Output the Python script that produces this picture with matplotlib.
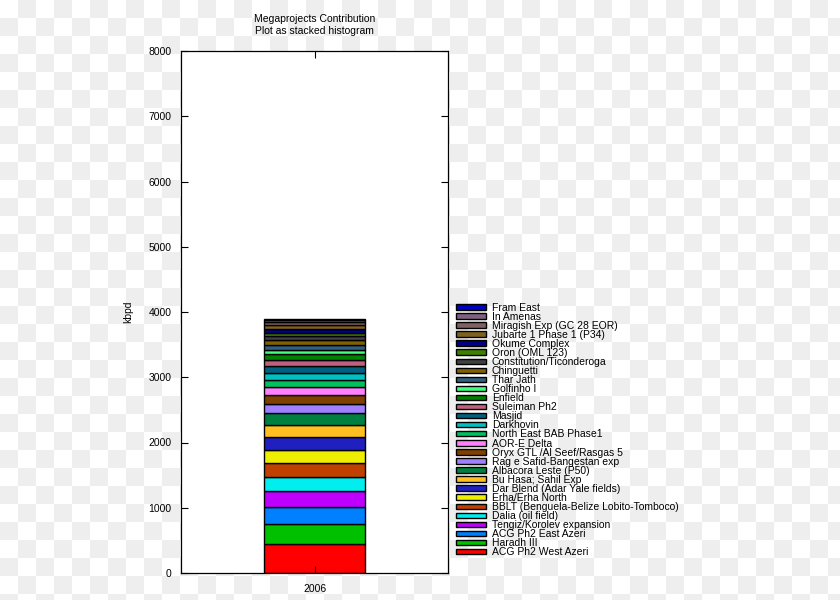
import numpy as np
import matplotlib
matplotlib.use("Agg")
import matplotlib.pyplot as plt

plt.rcParams['font.family'] = ['Liberation Sans', 'DejaVu Sans']

title = "Megaprojects Contribution\nPlot as stacked histogram"
category = ["2006"]
ylabel = "kbpd"

# bottom to top
projects = [
    "ACG Ph2 West Azeri", "Haradh III", "ACG Ph2 East Azeri", "Tengiz/Korolev expansion",
    "Dalia (oil field)", "BBLT (Benguela-Belize Lobito-Tomboco)", "Erha/Erha North",
    "Dar Blend (Adar Yale fields)", "Bu Hasa; Sahil Exp", "Albacora Leste (P50)",
    "Rag e Safid-Bangestan exp", "Oryx GTL /Al Seef/Rasgas 5", "AOR-E Delta",
    "North East BAB Phase1", "Darkhovin", "Masjid", "Suleiman Ph2", "Enfield",
    "Golfinho I", "Thar Jath", "Chinguetti", "Constitution/Ticonderoga", "Oron (OML 123)",
    "Okume Complex", "Jubarte 1 Phase 1 (P34)", "Miragish Exp (GC 28 EOR)", "In Amenas",
    "Fram East",
]
values = [
    444, 306, 260, 245,
    215, 215, 200,
    200, 184, 184,
    138, 138, 116,
    107, 113, 101, 103, 87,
    61, 77, 70, 61, 52,
    66, 61, 41, 35,
    20,
]
colors = [
    "#ff0000", "#00c000", "#0080ff", "#c000ff",
    "#00eeee", "#c04000", "#eeee00",
    "#2020c0", "#ffc020", "#008040",
    "#a080ff", "#804000", "#ff80ff",
    "#00c060", "#00c0c0", "#006080", "#c06080", "#008000",
    "#40ff80", "#306080", "#806000", "#404040", "#408000",
    "#000080", "#806020", "#806060", "#806080",
    "#0000c0",
]

yticks = [0, 1000, 2000, 3000, 4000, 5000, 6000, 7000, 8000]

fig = plt.figure(figsize=(8.4, 6.0), dpi=100)

# checkerboard background
bg = fig.add_axes([0, 0, 1, 1], zorder=-10)
yy, xx = np.mgrid[0:600, 0:840]
checker = ((xx // 18) + (yy // 18)) % 2
bg.imshow(checker, cmap=matplotlib.colors.ListedColormap(["#ffffff", "#eeeeee"]),
          interpolation="nearest", aspect="auto")
bg.axis("off")

ax = fig.add_axes([181/840, 27/600, 267/840, 522/600])
ax.set_facecolor("white")

x = np.arange(len(category))
bottom = np.zeros(len(category))
handles = []
for name, v, c in zip(projects, values, colors):
    b = ax.bar(x, [v], width=0.75, bottom=bottom, color=c, edgecolor="black",
               linewidth=1.0, label=name)
    bottom = bottom + v
    handles.append(b)

ax.set_xlim(-1, 1)
ax.set_ylim(0, 8000)
ax.set_yticks(yticks)
ax.set_xticks(x)
ax.set_xticklabels(category)
ax.tick_params(direction="in", top=True, right=True, length=5, width=0.8,
               labelsize=7.5, pad=7, colors="black")
ax.tick_params(axis="x", pad=8)
for s in ax.spines.values():
    s.set_linewidth(0.9)
    s.set_color("black")

ax.set_ylabel(ylabel, fontsize=7.5, labelpad=11)
ax.set_title(title, fontsize=7.5, pad=12, linespacing=1.3)

leg = ax.legend(handles[::-1], projects[::-1], loc="upper left",
                bbox_to_anchor=(1.03, 0.518), fontsize=7.5, frameon=False,
                handlelength=2.9, handleheight=0.42, handletextpad=0.55,
                labelspacing=-0.09, borderaxespad=0, borderpad=0)

fig.savefig("out.png", dpi=100)
